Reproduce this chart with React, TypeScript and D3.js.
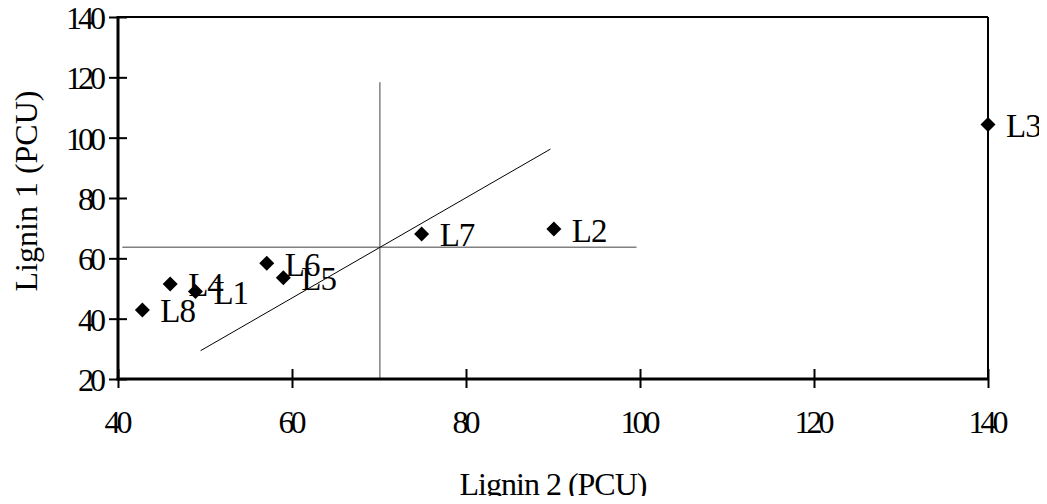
import { useEffect, useRef } from "react";
import * as d3 from "d3";

// Sample names and their values
const sampleNames = ["L1", "L2", "L3", "L4", "L5", "L6", "L7", "L8"];
const lignin2 = [48.9, 90.1, 140, 46.0, 59.0, 57.1, 74.9, 42.8];
const lignin1 = [49.0, 69.7, 104.4, 51.5, 53.6, 58.4, 68.1, 42.9];

// Axis ticks
const xTicks = [40, 60, 80, 100, 120, 140];
const yTicks = [20, 40, 60, 80, 100, 120, 140];

// Reference lines (means) and regression line
const meanX = 70.1;
const meanY = 63.7;
const hLineX = [40.5, 99.6];
const vLineY = [20, 118.4];
const fitX = [49.5, 89.7];
const fitY = [29.4, 96.2];

const App = () => {
  const canvas = useRef(null);

  useEffect(() => {
    drawChart();
  }, []);

  const drawChart = () => {
    d3.select(canvas.current).selectAll("svg").remove();

    const width = 1047;
    const height = 504;
    const margin = { top: 17, right: 59, bottom: 125, left: 118 };
    const font = "'Liberation Serif', 'Times New Roman', serif";

    const svg = d3
      .select(canvas.current)
      .append("svg")
      .attr("width", width)
      .attr("height", height)
      .style("display", "block");

    const x = d3
      .scaleLinear()
      .domain([40, 140])
      .range([margin.left, width - margin.right]);
    const y = d3
      .scaleLinear()
      .domain([20, 140])
      .range([height - margin.bottom, margin.top]);

    // frame: top and right thin, left and bottom thick
    svg
      .append("line")
      .attr("x1", x(40))
      .attr("x2", x(140))
      .attr("y1", y(140))
      .attr("y2", y(140))
      .attr("stroke", "black")
      .attr("stroke-width", 2);
    svg
      .append("line")
      .attr("x1", x(140))
      .attr("x2", x(140))
      .attr("y1", y(140))
      .attr("y2", y(20))
      .attr("stroke", "black")
      .attr("stroke-width", 2);

    // reference lines in grey
    svg
      .append("line")
      .attr("x1", x(hLineX[0]))
      .attr("x2", x(hLineX[1]))
      .attr("y1", y(meanY))
      .attr("y2", y(meanY))
      .attr("stroke", "#808080")
      .attr("stroke-width", 1.5);
    svg
      .append("line")
      .attr("x1", x(meanX))
      .attr("x2", x(meanX))
      .attr("y1", y(vLineY[0]))
      .attr("y2", y(vLineY[1]))
      .attr("stroke", "#808080")
      .attr("stroke-width", 1.5);

    // regression line
    svg
      .append("line")
      .attr("x1", x(fitX[0]))
      .attr("x2", x(fitX[1]))
      .attr("y1", y(fitY[0]))
      .attr("y2", y(fitY[1]))
      .attr("stroke", "black")
      .attr("stroke-width", 1);

    // Y axis
    const yAxis = d3.axisLeft(y).tickValues(yTicks).tickSize(0).tickFormat((d) => `${d}`);
    const yG = svg.append("g").attr("transform", `translate(${x(40)}, 0)`).call(yAxis);
    yG.select(".domain").remove();
    yG.selectAll(".tick line").remove();
    yG.selectAll(".tick")
      .append("line")
      .attr("x1", -9)
      .attr("x2", 9)
      .attr("stroke", "black")
      .attr("stroke-width", 2);
    yG.selectAll(".tick text")
      .attr("x", -16)
      .attr("dy", "0.36em")
      .attr("fill", "black")
      .attr("font-family", font)
      .attr("font-size", 32)
      .attr("letter-spacing", -4);
    svg
      .append("line")
      .attr("x1", x(40))
      .attr("x2", x(40))
      .attr("y1", y(140) - 1)
      .attr("y2", y(20) + 1.5)
      .attr("stroke", "black")
      .attr("stroke-width", 3);

    // X axis
    const xAxis = d3.axisBottom(x).tickValues(xTicks).tickSize(0).tickFormat((d) => `${d}`);
    const xG = svg.append("g").attr("transform", `translate(0, ${y(20)})`).call(xAxis);
    xG.select(".domain").remove();
    xG.selectAll(".tick line").remove();
    xG.selectAll(".tick")
      .append("line")
      .attr("y1", -10)
      .attr("y2", 9)
      .attr("stroke", "black")
      .attr("stroke-width", 2);
    xG.selectAll(".tick text")
      .attr("y", 54)
      .attr("dy", 0)
      .attr("dx", -2)
      .attr("fill", "black")
      .attr("font-family", font)
      .attr("font-size", 32)
      .attr("letter-spacing", -4);
    svg
      .append("line")
      .attr("x1", x(40) - 1.5)
      .attr("x2", x(140))
      .attr("y1", y(20))
      .attr("y2", y(20))
      .attr("stroke", "black")
      .attr("stroke-width", 3);

    // Axis titles
    svg
      .append("text")
      .attr("x", (x(40) + x(140)) / 2)
      .attr("y", 495)
      .attr("text-anchor", "middle")
      .attr("font-family", font)
      .attr("font-size", 32)
      .attr("letter-spacing", -1)
      .text("Lignin 2 (PCU)");
    svg
      .append("text")
      .attr("transform", `translate(37, 191) rotate(-90)`)
      .attr("text-anchor", "middle")
      .attr("font-family", font)
      .attr("font-size", 32)
      .text("Lignin 1 (PCU)");

    const data = sampleNames.map((name, i) => ({ name, lx: lignin2[i], ly: lignin1[i] }));

    // diamond markers
    svg
      .append("g")
      .selectAll("path")
      .data(data)
      .join("path")
      .attr("transform", (d) => `translate(${x(d.lx)}, ${y(d.ly)})`)
      .attr("d", "M0,-7.5L7.5,0L0,7.5L-7.5,0Z")
      .attr("fill", "black");

    // point labels
    svg
      .append("g")
      .attr("font-family", font)
      .attr("font-size", 33)
      .selectAll("text")
      .data(data)
      .join("text")
      .attr("x", (d) => x(d.lx) + 18)
      .attr("y", (d) => y(d.ly) + 12.5)
      .attr("fill", "black")
      .attr("letter-spacing", -1)
      .text((d) => d.name);
  };

  return <div ref={canvas} style={{ margin: -8 }}></div>;
};

export default App;
